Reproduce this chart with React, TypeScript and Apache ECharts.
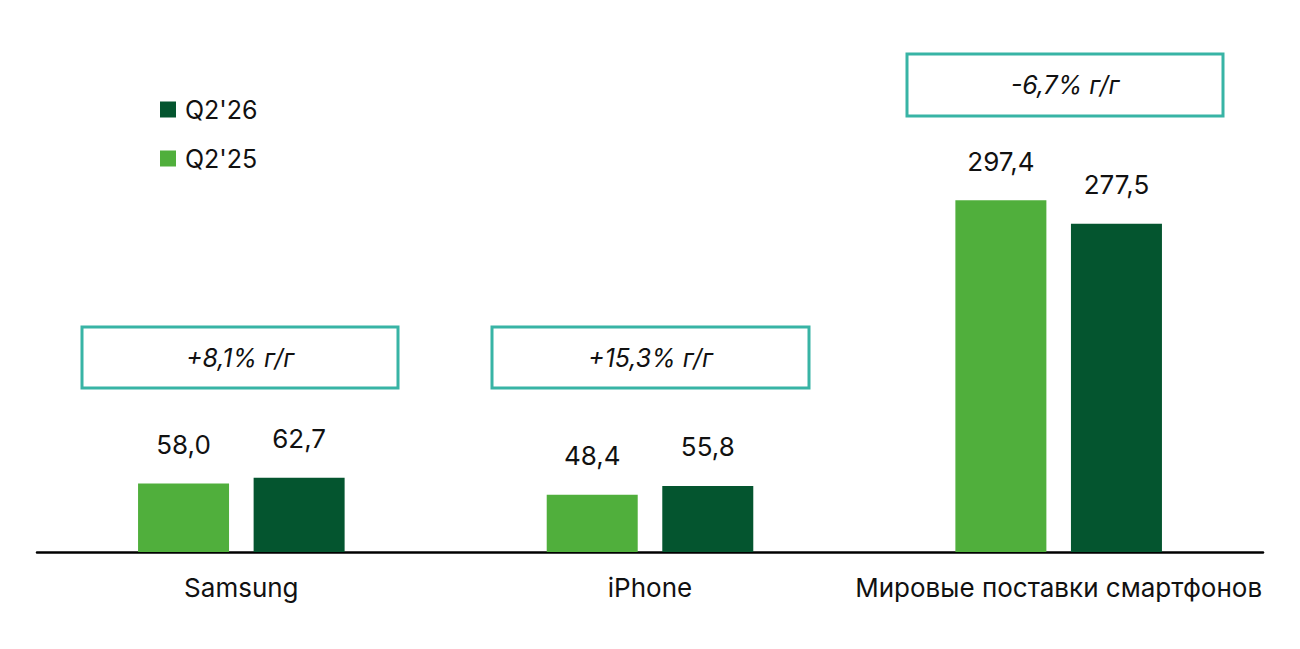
import React, { useEffect, useRef } from "react";
import * as echarts from "echarts";

const categories = ["Samsung", "iPhone", "Мировые поставки смартфонов"];
const seriesNames = ["Q2'25", "Q2'26"];
const valuesQ225 = [58.0, 48.4, 297.4];
const valuesQ226 = [62.7, 55.8, 277.5];
const changeLabels = ["+8,1% г/г", "+15,3% г/г", "-6,7% г/г"];

const FONT = "Inter";
const LIGHT = "#50AF3C";
const DARK = "#04552F";
const TEAL = "#38B4A5";

const fmt = (v: number) => v.toFixed(1).replace(".", ",");

export default function App() {
  const ref = useRef<HTMLDivElement>(null);
  useEffect(() => {
    document.body.style.margin = "0";
    const chart = echarts.init(ref.current!, undefined, { renderer: "svg" });
    const boxes = [
      { x: 82, y: 327, w: 316, h: 61 },
      { x: 492, y: 327, w: 317, h: 61 },
      { x: 907, y: 54, w: 316, h: 62 },
    ];
    const graphic: any[] = [];
    boxes.forEach((b, i) => {
      graphic.push({
        type: "rect",
        shape: { x: b.x, y: b.y, width: b.w, height: b.h },
        style: { fill: "#fff", stroke: TEAL, lineWidth: 3 },
        z: 10,
      });
      graphic.push({
        type: "text",
        x: b.x + b.w / 2,
        y: b.y + b.h / 2,
        style: {
          text: changeLabels[i],
          fontFamily: FONT,
          fontStyle: "italic",
          fontWeight: 400,
          fontSize: 25,
          fill: "#111",
          align: "center",
          verticalAlign: "middle",
        },
        z: 11,
      });
    });
    const label = {
      show: true,
      position: "top" as const,
      distance: 26,
      fontFamily: FONT,
      fontSize: 26,
      fontWeight: 400,
      color: "#111",
      formatter: (p: any) => fmt(p.value),
    };
    chart.setOption({
      animation: false,
      textStyle: { fontFamily: FONT },
      grid: { left: 37, right: 37, top: 138, bottom: 97, containLabel: false },
      legend: {
        data: [seriesNames[1], seriesNames[0]],
        orient: "vertical",
        left: 155,
        top: 92,
        icon: "rect",
        itemWidth: 16,
        itemHeight: 16,
        itemGap: 24,
        textStyle: { fontFamily: FONT, fontSize: 25, color: "#111", padding: [0, 0, 0, 4] },
      },
      xAxis: {
        type: "category",
        data: categories,
        axisLine: { lineStyle: { color: "#000", width: 2.5 } },
        axisTick: { show: false },
        axisLabel: { interval: 0, fontFamily: FONT, fontSize: 26, color: "#111", margin: 22 },
      },
      yAxis: { type: "value", min: 0, max: 350, show: false, splitLine: { show: false } },
      series: [
        {
          name: seriesNames[0],
          type: "bar",
          data: valuesQ225,
          barWidth: 91,
          barGap: "27%",
          itemStyle: { color: LIGHT },
          label,
        },
        {
          name: seriesNames[1],
          type: "bar",
          data: valuesQ226,
          barWidth: 91,
          barGap: "27%",
          itemStyle: { color: DARK },
          label,
        },
      ],
      graphic,
    });
    return () => chart.dispose();
  }, []);
  return <div ref={ref} style={{ width: 1300, height: 649 }} />;
}
